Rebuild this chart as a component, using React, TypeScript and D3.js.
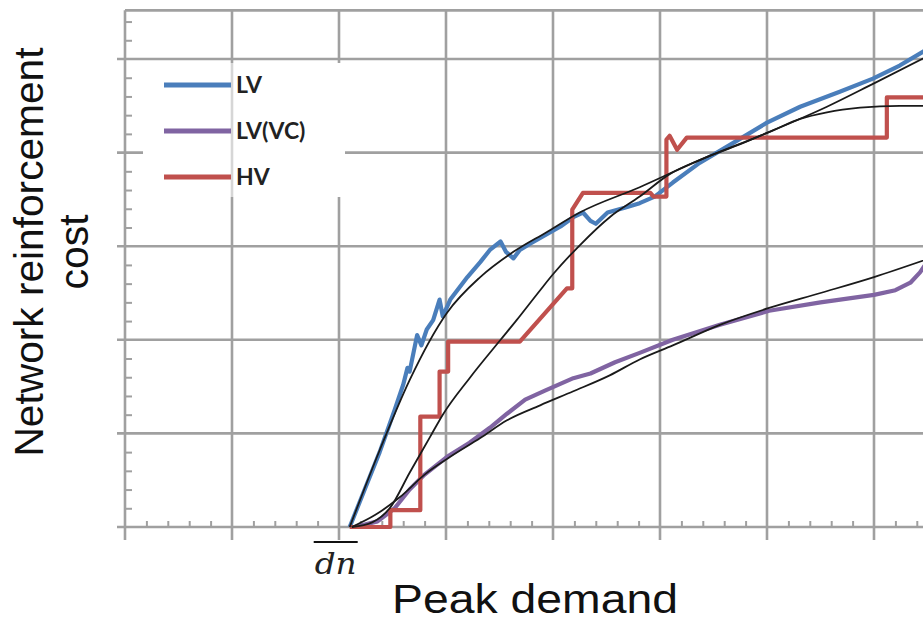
import React, { useEffect, useRef } from "react";
import * as d3 from "d3";

// axis grid (data units)
const xGridValues = [0, 1, 2, 3, 4, 5, 6, 7, 8];
const yGridValues = [0, 1, 2, 3, 4, 5];
const yTop = 5.52;
const dnValue = 2.1;

const seriesNames = ["LV", "LV(VC)", "HV"];

// measured curves [peak demand, cost]
const lvData = [
  [2.1, 0], [2.24, 0.4], [2.38, 0.8], [2.52, 1.25], [2.6, 1.52], [2.64, 1.7], [2.66, 1.66],
  [2.73, 2.05], [2.77, 1.94], [2.82, 2.11], [2.88, 2.21], [2.94, 2.43], [2.97, 2.25], [3.04, 2.43],
  [3.2, 2.67], [3.32, 2.83], [3.41, 2.96], [3.51, 3.05], [3.56, 2.94], [3.63, 2.87], [3.69, 2.96],
  [3.79, 3.03], [3.93, 3.12], [4.07, 3.21], [4.19, 3.31], [4.28, 3.36], [4.35, 3.27], [4.4, 3.24],
  [4.51, 3.36], [4.67, 3.41], [4.81, 3.46], [4.95, 3.53], [5.12, 3.68], [5.37, 3.89], [5.65, 4.08],
  [6.0, 4.32], [6.31, 4.49], [6.68, 4.65], [6.99, 4.79], [7.24, 4.93], [7.52, 5.12],
];

const lvVcData = [
  [2.15, 0], [2.36, 0.06], [2.52, 0.2], [2.66, 0.4], [2.8, 0.56], [3.01, 0.75], [3.22, 0.9],
  [3.41, 1.06], [3.57, 1.21], [3.74, 1.36], [3.93, 1.46], [4.19, 1.59], [4.35, 1.64], [4.58, 1.76],
  [4.81, 1.86], [5.12, 2.0], [5.56, 2.16], [6.02, 2.31], [6.5, 2.4], [7.0, 2.48], [7.2, 2.53],
  [7.34, 2.61], [7.43, 2.72], [7.52, 2.87],
];

const hvData = [
  [2.1, 0], [2.48, 0], [2.48, 0.18], [2.76, 0.18], [2.76, 1.18], [2.94, 1.18], [2.94, 1.66],
  [3.02, 1.66], [3.02, 1.98], [3.69, 1.98], [4.13, 2.55], [4.18, 2.55], [4.18, 3.39], [4.28, 3.57],
  [4.91, 3.57], [4.94, 3.53], [5.06, 3.53], [5.06, 4.14], [5.09, 4.18], [5.16, 4.03], [5.25, 4.16],
  [7.12, 4.16], [7.12, 4.59], [7.57, 4.59],
];

// fitted trend curves
const lvFit = [
  [2.1, 0], [2.38, 0.82], [2.66, 1.57], [3.01, 2.29], [3.32, 2.67], [3.63, 2.94], [3.94, 3.15],
  [4.25, 3.36], [4.81, 3.63], [5.37, 3.92], [6.0, 4.21], [6.56, 4.49], [7.0, 4.74], [7.52, 5.04],
];

const lvVcFit = [
  [2.12, 0], [2.34, 0.13], [2.57, 0.32], [2.8, 0.56], [3.04, 0.75], [3.32, 0.95], [3.57, 1.14],
  [3.88, 1.3], [4.19, 1.45], [4.53, 1.62], [4.81, 1.79], [5.12, 1.94], [5.56, 2.16], [6.02, 2.34],
  [6.5, 2.5], [7.0, 2.67], [7.52, 2.87],
];

const hvFit = [
  [2.12, 0], [2.31, 0.05], [2.48, 0.21], [2.66, 0.58], [2.85, 0.96], [2.97, 1.2], [3.22, 1.59],
  [3.51, 2.0], [3.66, 2.21], [3.88, 2.53], [4.0, 2.7], [4.25, 3.01], [4.53, 3.31], [4.81, 3.53],
  [5.09, 3.77], [5.37, 3.92], [5.75, 4.09], [6.06, 4.24], [6.31, 4.36], [6.56, 4.43], [6.87, 4.48],
  [7.24, 4.5], [7.52, 4.5],
];

const App = () => {
  const ref = useRef<SVGSVGElement>(null);

  useEffect(() => {
    const svg = d3.select(ref.current);
    svg.selectAll("*").remove();

    const width = 923;
    const height = 622;
    const x = d3.scaleLinear().domain([0, 8]).range([125, 981]);
    const y = d3.scaleLinear().domain([0, 5]).range([527, 59]);
    const color = d3.scaleOrdinal<string>().domain(seriesNames).range(["#4a7ebb", "#8064a2", "#c0504d"]);
    const gridColor = "#a0a0a0";

    svg.append("rect").attr("width", width).attr("height", height).attr("fill", "#fff");

    // grid
    const grid = svg.append("g").attr("stroke", gridColor).attr("stroke-width", 2.6);
    grid
      .selectAll("line.v")
      .data(xGridValues)
      .join("line")
      .attr("x1", (d) => x(d))
      .attr("x2", (d) => x(d))
      .attr("y1", y(yTop))
      .attr("y2", y(0) + 13);
    grid
      .selectAll("line.h")
      .data(yGridValues)
      .join("line")
      .attr("x1", x(0) - 8)
      .attr("x2", width + 10)
      .attr("y1", (d) => y(d))
      .attr("y2", (d) => y(d));
    grid.append("line").attr("x1", x(0)).attr("x2", width + 10).attr("y1", y(yTop)).attr("y2", y(yTop));

    // minor ticks
    const xMinor = d3.range(0, 8, 0.2).filter((v) => Math.abs(v - Math.round(v)) > 0.01);
    const yMinor = d3.range(0, yTop, 0.2).filter((v) => Math.abs(v - Math.round(v)) > 0.01);
    svg
      .append("g")
      .attr("transform", `translate(0,${y(0)})`)
      .call(d3.axisBottom(x).tickValues(xMinor).tickSize(-6).tickFormat(() => ""))
      .call((g) => g.select(".domain").remove())
      .selectAll("line")
      .attr("stroke", gridColor)
      .attr("stroke-width", 2);
    svg
      .append("g")
      .attr("transform", `translate(${x(0)},0)`)
      .call(d3.axisLeft(y).tickValues(yMinor).tickSize(-7).tickFormat(() => ""))
      .call((g) => g.select(".domain").remove())
      .selectAll("line")
      .attr("stroke", gridColor)
      .attr("stroke-width", 2);

    const line = d3
      .line<number[]>()
      .x((d) => x(d[0]))
      .y((d) => y(d[1]));
    const smooth = d3
      .line<number[]>()
      .x((d) => x(d[0]))
      .y((d) => y(d[1]))
      .curve(d3.curveMonotoneX);

    // measured series
    [lvData, lvVcData, hvData].forEach((data, i) => {
      svg
        .append("path")
        .attr("d", line(data as number[][]))
        .attr("fill", "none")
        .attr("stroke", color(seriesNames[i]))
        .attr("stroke-width", 4.2)
        .attr("stroke-linejoin", "round");
    });

    // fits
    [lvFit, lvVcFit, hvFit].forEach((data) => {
      svg
        .append("path")
        .attr("d", smooth(data as number[][]))
        .attr("fill", "none")
        .attr("stroke", "#1a1a1a")
        .attr("stroke-width", 1.8);
    });

    // legend
    const legend = svg.append("g");
    legend.append("rect").attr("x", 143).attr("y", 63).attr("width", 202).attr("height", 134).attr("fill", "#fff");
    legend
      .append("line")
      .attr("x1", x(1))
      .attr("x2", x(1))
      .attr("y1", 63)
      .attr("y2", 197)
      .attr("stroke", "#d6d6d6")
      .attr("stroke-width", 2.6);
    seriesNames.forEach((name, i) => {
      const ly = [85, 131, 177][i];
      legend
        .append("line")
        .attr("x1", 164)
        .attr("x2", 231)
        .attr("y1", ly)
        .attr("y2", ly)
        .attr("stroke", color(name))
        .attr("stroke-width", 5);
      legend
        .append("text")
        .attr("x", 236)
        .attr("y", ly + 8)
        .attr("font-family", "Lato, 'Open Sans', sans-serif")
        .attr("font-weight", 700)
        .attr("font-size", 23)
        .attr("fill", "#222")
        .text(name);
    });

    // axis titles
    const font = "'Liberation Sans', Arial, sans-serif";
    svg
      .append("text")
      .attr("transform", "translate(43,252) rotate(-90)")
      .attr("text-anchor", "middle")
      .attr("font-family", font)
      .attr("font-size", 41)
      .attr("fill", "#111")
      .attr("textLength", 409)
      .attr("lengthAdjust", "spacingAndGlyphs")
      .text("Network reinforcement");
    svg
      .append("text")
      .attr("transform", "translate(88,252) rotate(-90)")
      .attr("text-anchor", "middle")
      .attr("font-family", font)
      .attr("font-size", 41)
      .attr("fill", "#111")
      .text("cost");
    svg
      .append("text")
      .attr("x", 392)
      .attr("y", 613)
      .attr("font-family", font)
      .attr("font-size", 40)
      .attr("fill", "#111")
      .attr("textLength", 286)
      .attr("lengthAdjust", "spacingAndGlyphs")
      .text("Peak demand");

    // dn marker
    const dnX = x(dnValue) - 14;
    svg
      .append("line")
      .attr("x1", dnX - 22)
      .attr("x2", dnX + 22)
      .attr("y1", 542)
      .attr("y2", 542)
      .attr("stroke", "#111")
      .attr("stroke-width", 2);
    svg
      .append("text")
      .attr("x", dnX)
      .attr("y", 574)
      .attr("text-anchor", "middle")
      .attr("font-family", "'DejaVu Serif', 'Liberation Serif', serif")
      .attr("font-style", "italic")
      .attr("font-size", 30)
      .attr("fill", "#222")
      .attr("textLength", 42)
      .attr("lengthAdjust", "spacingAndGlyphs")
      .text("dn");
  }, []);

  return (
    <div style={{ position: "absolute", left: 0, top: 0 }}>
      <svg ref={ref} width={923} height={622} style={{ display: "block" }} />
    </div>
  );
};

export default App;
